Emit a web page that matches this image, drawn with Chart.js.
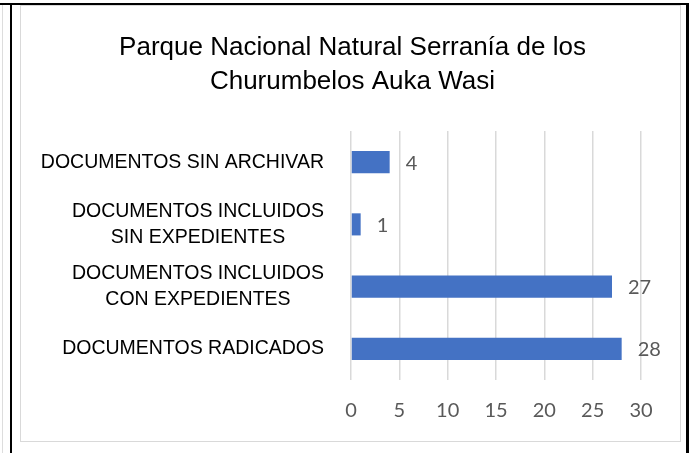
<!DOCTYPE html>
<html>
<head>
<meta charset="utf-8">
<script src="https://cdn.jsdelivr.net/npm/chart.js@4/dist/chart.umd.min.js"></script>
<style>
  html, body { margin: 0; padding: 0; background: #fff; }
  body { width: 695px; height: 453px; position: relative; overflow: hidden; }
  .ln { position: absolute; }
  #wrap { position: absolute; left: 0; top: 0; width: 695px; height: 453px; }
</style>
</head>
<body>
<div class="ln" style="left:0;top:3px;width:689px;height:2px;background:#000"></div>
<div class="ln" style="left:2px;top:5px;width:1px;height:448px;background:#ddd"></div>
<div class="ln" style="left:10px;top:3px;width:2px;height:450px;background:#000"></div>
<div class="ln" style="left:686px;top:3px;width:3px;height:450px;background:#000"></div>
<div class="ln" style="left:20px;top:5px;width:659px;height:435px;border:1.5px solid #d9d9d9"></div>
<div id="wrap"><canvas id="c" width="695" height="453"></canvas></div>
<script>
const titleLines = ['Parque Nacional Natural Serranía de los', 'Churumbelos Auka Wasi'];
const categories = [
  ['DOCUMENTOS SIN ARCHIVAR'],
  ['DOCUMENTOS INCLUIDOS', 'SIN EXPEDIENTES'],
  ['DOCUMENTOS INCLUIDOS', 'CON EXPEDIENTES'],
  ['DOCUMENTOS RADICADOS']
];
const values = [4, 1, 27, 28];
const xMin = 0, xMax = 30, xStep = 5;

const titleFont = '26px "Liberation Sans", Arial, sans-serif';
const catFont = '19.5px "Liberation Sans", Arial, sans-serif';
const numFont = '20px Lato, "Open Sans", sans-serif';

const labelPlugin = {
  id: 'labels',
  afterDatasetsDraw(chart) {
    const ctx = chart.ctx;
    const ys = chart.scales.y;
    ctx.save();
    // title
    ctx.font = titleFont;
    ctx.fillStyle = '#000';
    ctx.textAlign = 'center';
    ctx.textBaseline = 'middle';
    titleLines.forEach((l, k) => ctx.fillText(l, 352.5, 48 + k * 34));
    // category labels (Excel style: block right-aligned, lines centred)
    ctx.font = catFont;
    const rightEdge = 324, lh = 26;
    categories.forEach((lines, i) => {
      const y = ys.getPixelForValue(i);
      const w = Math.max(...lines.map(l => ctx.measureText(l).width));
      const cx = rightEdge - w / 2;
      const y0 = y - (lines.length - 1) * lh / 2;
      lines.forEach((l, k) => ctx.fillText(l, cx, y0 + k * lh));
    });
    // data labels
    ctx.font = numFont;
    ctx.fillStyle = '#595959';
    ctx.textAlign = 'left';
    const meta = chart.getDatasetMeta(0);
    meta.data.forEach((bar, i) => {
      ctx.fillText(String(values[i]), bar.x + 16, bar.y + 1);
    });
    ctx.restore();
  }
};

new Chart(document.getElementById('c'), {
  type: 'bar',
  data: {
    labels: categories,
    datasets: [{
      data: values,
      backgroundColor: '#4472C4',
      borderWidth: 0,
      barPercentage: 0.355,
      categoryPercentage: 1
    }]
  },
  options: {
    indexAxis: 'y',
    responsive: false,
    animation: false,
    events: [],
    layout: { padding: { left: 351, right: 54, top: 131, bottom: 0 } },
    plugins: {
      legend: { display: false },
      tooltip: { enabled: false },
      title: { display: false }
    },
    scales: {
      y: { display: false },
      x: {
        min: xMin, max: xMax,
        border: { display: false },
        grid: { color: '#d9d9d9', lineWidth: 1.5, drawTicks: false },
        ticks: {
          stepSize: xStep,
          color: '#595959',
          font: { family: 'Lato, "Open Sans", sans-serif', size: 20 },
          padding: 19
        },
        afterFit(scale) { scale.height = 73; }
      }
    }
  },
  plugins: [labelPlugin]
});
</script>
</body>
</html>
